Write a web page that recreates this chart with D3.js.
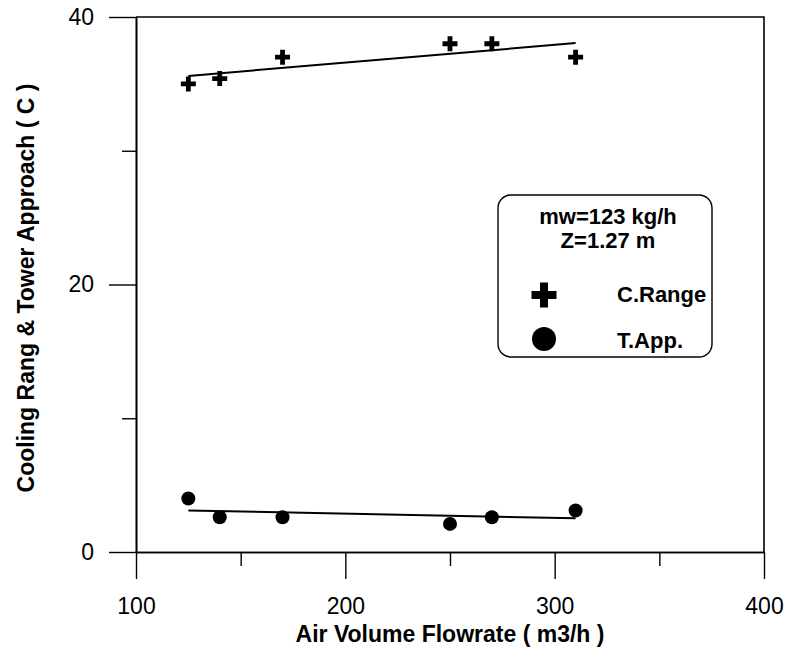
<!DOCTYPE html>
<html>
<head>
<meta charset="utf-8">
<script src="https://cdn.jsdelivr.net/npm/d3@7"></script>
<style>
  html, body { margin: 0; padding: 0; background: #fff; }
  svg { display: block; font-family: "Liberation Sans", Arial, sans-serif; }
</style>
</head>
<body>
<svg id="chart" width="788" height="652"></svg>
<script>
// Air flow rates (m3/h) and measured results
const airFlow = [125, 140, 170, 250, 270, 310];
const coolingRange = [35, 35.4, 37, 38, 38, 37];
const towerApproach = [4.0, 2.6, 2.6, 2.1, 2.6, 3.1];

const xMajorTicks = [100, 200, 300, 400];
const xMinorTicks = [150, 250, 350];
const yMajorTicks = [0, 20, 40];
const yMinorTicks = [10, 30];

const legendNotes = ["mw=123 kg/h", "Z=1.27 m"];
const seriesNames = ["C.Range", "T.App."];

const svg = d3.select("#chart");
const plot = { left: 136, right: 764, top: 17, bottom: 552 };

const x = d3.scaleLinear().domain([100, 400]).range([plot.left, plot.right]);
const y = d3.scaleLinear().domain([0, 40]).range([plot.bottom, plot.top]);

// frame: top and right edges
svg.append("path")
  .attr("d", `M${plot.left},${plot.top}H${plot.right}V${plot.bottom}`)
  .attr("fill", "none").attr("stroke", "#000").attr("stroke-width", 1.6);

function styleAxis(g) {
  g.selectAll("path.domain").attr("stroke", "#000").attr("stroke-width", 1.6);
  g.selectAll(".tick line").attr("stroke", "#000").attr("stroke-width", 1.4);
  g.selectAll(".tick text").attr("fill", "#000")
    .style("font-family", "'Liberation Sans', Arial, sans-serif")
    .style("font-size", "23px");
}

// y axis (major + minor)
svg.append("g").attr("transform", `translate(${plot.left},0)`)
  .call(d3.axisLeft(y).tickValues(yMajorTicks).tickSize(27).tickSizeOuter(0)
    .tickPadding(15).tickFormat(d3.format("d")))
  .call(styleAxis);
svg.append("g").attr("transform", `translate(${plot.left},0)`)
  .call(d3.axisLeft(y).tickValues(yMinorTicks).tickSize(14).tickSizeOuter(0).tickFormat(""))
  .call(styleAxis);

// x axis (major + minor)
svg.append("g").attr("transform", `translate(0,${plot.bottom})`)
  .call(d3.axisBottom(x).tickValues(xMajorTicks).tickSize(27).tickSizeOuter(0)
    .tickPadding(19).tickFormat(d3.format("d")))
  .call(styleAxis);
svg.append("g").attr("transform", `translate(0,${plot.bottom})`)
  .call(d3.axisBottom(x).tickValues(xMinorTicks).tickSize(14).tickSizeOuter(0).tickFormat(""))
  .call(styleAxis);

// axis titles
svg.append("text")
  .attr("x", (plot.left + plot.right) / 2).attr("y", 642)
  .attr("text-anchor", "middle")
  .style("font-weight", "bold").style("font-size", "23px")
  .text("Air Volume Flowrate ( m3/h )");

svg.append("text")
  .attr("transform", "translate(34,288) rotate(-90)")
  .attr("text-anchor", "middle")
  .style("font-weight", "bold").style("font-size", "23px")
  .text("Cooling Rang & Tower Approach ( C )");

// least-squares fit line over the measured range
function fitLine(xs, ys) {
  const mx = d3.mean(xs), my = d3.mean(ys);
  const sxy = d3.sum(xs, (v, i) => (v - mx) * (ys[i] - my));
  const sxx = d3.sum(xs, v => (v - mx) * (v - mx));
  const b = sxy / sxx, a = my - b * mx;
  const x0 = d3.min(xs), x1 = d3.max(xs);
  return [[x0, a + b * x0], [x1, a + b * x1]];
}

const line = d3.line().x(d => x(d[0])).y(d => y(d[1]));
[coolingRange, towerApproach].forEach(series => {
  svg.append("path")
    .datum(fitLine(airFlow, series))
    .attr("d", line)
    .attr("fill", "none").attr("stroke", "#000").attr("stroke-width", 2);
});

// plus symbol with adjustable arm thickness
function plusPath(w, t) {
  const h = w / 2, k = t / 2;
  return `M${-k},${-h}H${k}V${-k}H${h}V${k}H${k}V${h}H${-k}V${k}H${-h}V${-k}H${-k}Z`;
}

svg.append("g").selectAll("path")
  .data(airFlow.map((v, i) => [v, coolingRange[i]]))
  .join("path")
  .attr("transform", d => `translate(${x(d[0])},${y(d[1])})`)
  .attr("d", plusPath(15, 4.8))
  .attr("fill", "#000");

svg.append("g").selectAll("circle")
  .data(airFlow.map((v, i) => [v, towerApproach[i]]))
  .join("circle")
  .attr("cx", d => x(d[0])).attr("cy", d => y(d[1]))
  .attr("r", 7).attr("fill", "#000");

// legend
const lg = svg.append("g");
lg.append("rect")
  .attr("x", 498).attr("y", 195).attr("width", 214).attr("height", 162)
  .attr("rx", 13).attr("ry", 13)
  .attr("fill", "#fff").attr("stroke", "#000").attr("stroke-width", 1.4);
lg.selectAll("text.note")
  .data(legendNotes)
  .join("text").attr("class", "note")
  .attr("x", 608).attr("y", (d, i) => 224 + i * 24)
  .attr("text-anchor", "middle")
  .style("font-weight", "bold").style("font-size", "22px")
  .text(d => d);
lg.append("path")
  .attr("transform", "translate(544,295)")
  .attr("d", plusPath(25, 8)).attr("fill", "#000");
lg.append("circle")
  .attr("cx", 544).attr("cy", 339).attr("r", 12).attr("fill", "#000");
lg.selectAll("text.series")
  .data(seriesNames)
  .join("text").attr("class", "series")
  .attr("x", 617).attr("y", (d, i) => 302 + i * 46)
  .style("font-weight", "bold").style("font-size", "22px")
  .text(d => d);
</script>
</body>
</html>
